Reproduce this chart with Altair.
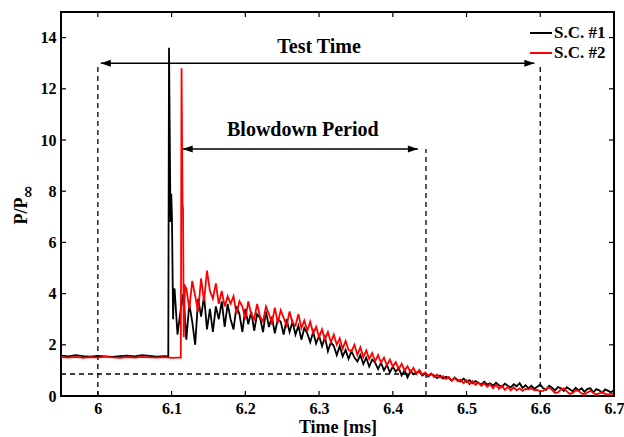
import altair as alt
import pandas as pd

# ---------------- data ----------------
# S.C. #1 (black) before the shock
sc1_pre_t = [5.95, 5.96, 5.97, 5.98, 5.99, 6.00, 6.01, 6.02, 6.03, 6.04, 6.05, 6.06, 6.07, 6.08, 6.09]
sc1_pre_p = [1.58, 1.55, 1.60, 1.56, 1.54, 1.57, 1.55, 1.53, 1.56, 1.58, 1.55, 1.60, 1.57, 1.54, 1.56]
# S.C. #1 shock peak
sc1_peak_t = [6.0955, 6.0965, 6.0985, 6.0995, 6.1005, 6.102, 6.103]
sc1_peak_p = [1.55, 13.6, 6.8, 7.9, 7.0, 3.0, 4.1]
# S.C. #1 blowdown, sampled every 0.004 ms from 6.104 ms
sc1_decay_start = 6.104
sc1_decay_p = [
    4.2, 2.4, 3.3, 4.0, 2.2, 3.6, 2.9, 2.0, 3.8, 3.1,
    3.9, 2.6, 3.4, 2.5, 3.5, 3.0, 3.7,
    2.7, 3.6, 3.0, 2.6, 3.5, 3.2, 2.5, 3.4, 2.8, 3.3,
    2.55, 3.2, 3.05, 2.5, 3.3, 2.7, 3.1, 2.45, 3.0, 2.9,
    2.4, 3.0, 2.5,
    2.9, 2.4, 2.75, 2.2, 2.65, 2.45, 2.1, 2.5, 2.05, 2.35,
    1.95, 2.3, 1.75, 2.1, 1.95, 1.6, 1.95, 1.55, 1.8, 1.45,
    1.75, 1.5, 1.35, 1.6, 1.25, 1.5, 1.15, 1.42, 1.3, 1.05,
    1.3, 1.0, 1.22, 0.92, 1.15, 0.95, 1.1, 0.8, 1.0, 0.72,
    0.98, 0.85, 0.92, 0.95, 0.8, 0.88, 0.76, 0.86, 0.8, 0.7,
    0.8, 0.68, 0.75, 0.7, 0.6, 0.72, 0.62, 0.56, 0.68, 0.55,
    0.62, 0.5, 0.58, 0.52, 0.44, 0.56, 0.45, 0.5, 0.4, 0.52,
    0.42, 0.36, 0.48, 0.4, 0.34, 0.46, 0.38, 0.5, 0.32, 0.42,
    0.3, 0.4, 0.28, 0.36, 0.45, 0.3, 0.24, 0.4, 0.32, 0.22,
    0.35, 0.3, 0.2, 0.34, 0.26, 0.18, 0.32, 0.22, 0.3, 0.16,
    0.28, 0.3, 0.14, 0.27, 0.22, 0.12, 0.26, 0.2, 0.14, 0.24,
]

# S.C. #2 (red) before the shock
sc2_pre_t = [5.95, 5.96, 5.97, 5.98, 5.99, 6.00, 6.01, 6.02, 6.03, 6.04, 6.05, 6.06, 6.07, 6.08, 6.09, 6.10, 6.11]
sc2_pre_p = [1.52, 1.50, 1.53, 1.49, 1.52, 1.50, 1.54, 1.51, 1.49, 1.52, 1.50, 1.53, 1.51, 1.50, 1.52, 1.49, 1.50]
# S.C. #2 shock peak
sc2_peak_t = [6.1125, 6.1135, 6.1148, 6.1155, 6.1165, 6.118]
sc2_peak_p = [1.5, 12.8, 7.5, 7.3, 2.3, 4.3]
# S.C. #2 blowdown, sampled every 0.004 ms from 6.120 ms
sc2_decay_start = 6.120
sc2_decay_p = [
    4.2, 3.4, 4.5, 3.9, 3.3, 4.6, 3.7, 4.9, 4.1, 3.8,
    4.4, 3.6, 4.1, 3.5, 3.9, 3.6,
    3.9, 3.2, 3.7, 3.5, 3.0, 3.7, 3.2, 3.0, 3.6, 3.1,
    2.9, 3.5, 3.2, 2.85, 3.45, 2.85, 3.35, 3.05, 2.75, 3.3,
    2.85, 2.75, 3.2, 2.65, 2.95,
    2.55, 2.9, 2.45, 2.7, 2.3, 2.6, 2.2, 2.5, 2.1, 2.4,
    2.0, 2.25, 1.85, 2.15, 1.8, 1.75, 2.0, 1.6, 1.9, 1.52,
    1.78, 1.45, 1.68, 1.35, 1.6, 1.3, 1.5, 1.2, 1.42, 1.15,
    1.32, 1.05, 1.26, 1.0, 1.16, 0.92, 1.1, 0.86, 1.02, 0.84,
    0.92, 0.8, 0.88, 0.74, 0.84, 0.72, 0.78, 0.66, 0.74, 0.6,
    0.7, 0.58, 0.64, 0.5, 0.62, 0.46, 0.58, 0.44, 0.52, 0.4,
    0.5, 0.36, 0.46, 0.3, 0.44, 0.28, 0.4, 0.24, 0.36, 0.22,
    0.34, 0.22, 0.3, 0.2, 0.28, 0.26, 0.3, 0.22, 0.24, 0.18,
    0.2, 0.28, 0.34, 0.24, 0.12, 0.14, 0.26, 0.3, 0.18, 0.08,
    0.12, 0.22, 0.2, 0.1, 0.06, 0.14, 0.2, 0.12, 0.06, 0.1,
    0.16, 0.08, 0.05, 0.1, 0.06,
]
decay_step = 0.004

series_names = ["S.C. #1", "S.C. #2"]
series_colors = ["#000000", "#ff0000"]

x_ticks = [6.0, 6.1, 6.2, 6.3, 6.4, 6.5, 6.6, 6.7]
y_ticks = [0, 2, 4, 6, 8, 10, 12, 14]

# annotations (data coordinates)
vline_x = [6.0, 6.6, 6.445]
vline_top = [13.0, 13.0, 9.65]
hline_y = 0.86
hline_x = [5.95, 6.445]
arrow_x1 = [6.004, 6.115]
arrow_x2 = [6.592, 6.434]
arrow_y = [13.0, 9.65]
label_text = ["Test Time", "Blowdown Period"]
label_x = [6.30, 6.278]
label_y = [13.63, 10.39]

# ---------------- build tables ----------------
def decay_times(start, n):
    return [round(start + decay_step * i, 4) for i in range(n)]

sc1_t = sc1_pre_t + sc1_peak_t + decay_times(sc1_decay_start, len(sc1_decay_p))
sc1_p = sc1_pre_p + sc1_peak_p + sc1_decay_p
sc2_t = sc2_pre_t + sc2_peak_t + decay_times(sc2_decay_start, len(sc2_decay_p))
sc2_p = sc2_pre_p + sc2_peak_p + sc2_decay_p

df1 = pd.DataFrame({"t": sc1_t, "p": sc1_p, "series": series_names[0], "i": range(len(sc1_t))})
df2 = pd.DataFrame({"t": sc2_t, "p": sc2_p, "series": series_names[1], "i": range(len(sc2_t))})

W, H = 553, 384
FONT = "Liberation Serif"

xscale = alt.Scale(domain=[5.95, 6.7], nice=False, zero=False)
yscale = alt.Scale(domain=[0, 15], nice=False)
cscale = alt.Scale(domain=series_names, range=series_colors)

xaxis = alt.Axis(values=x_ticks, format="~g", ticks=False, domain=False, grid=False, labelPadding=4,
                 title="Time [ms]", titlePadding=2, labelFlush=False)
yaxis = alt.Axis(values=y_ticks, ticks=False, domain=False, grid=False, labelPadding=5,
                 title=None)

line1 = alt.Chart(df1).mark_line(strokeWidth=1.8, clip=True).encode(
    x=alt.X("t:Q", scale=xscale, axis=xaxis),
    y=alt.Y("p:Q", scale=yscale, axis=yaxis),
    order="i:Q",
    color=alt.Color("series:N", scale=cscale, legend=alt.Legend(
        title=None, orient="none", legendX=468, legendY=9, symbolType="stroke",
        symbolSize=484, symbolStrokeWidth=2, labelFont=FONT, labelFontWeight="bold",
        labelFontSize=17, labelColor="black", labelOffset=1, rowPadding=0, padding=0)),
)
line2 = alt.Chart(df2).mark_line(strokeWidth=1.8, clip=True).encode(
    x=alt.X("t:Q", scale=xscale),
    y=alt.Y("p:Q", scale=yscale),
    order="i:Q",
    color=alt.Color("series:N", scale=cscale),
)

dash = [5, 4]
vlines = alt.Chart(pd.DataFrame({"x": vline_x, "y": [0] * 3, "y2": vline_top})).mark_rule(
    strokeDash=dash, color="black", strokeWidth=1.3).encode(
    x=alt.X("x:Q", scale=xscale), y=alt.Y("y:Q", scale=yscale), y2="y2:Q")
hline = alt.Chart(pd.DataFrame({"x": [hline_x[0]], "x2": [hline_x[1]], "y": [hline_y]})).mark_rule(
    strokeDash=dash, color="black", strokeWidth=1.3).encode(
    x=alt.X("x:Q", scale=xscale), x2="x2:Q", y=alt.Y("y:Q", scale=yscale))

arrows_df = pd.DataFrame({"x": arrow_x1, "x2": arrow_x2, "y": arrow_y})
arrow_lines = alt.Chart(arrows_df).mark_rule(color="black", strokeWidth=1.5).encode(
    x=alt.X("x:Q", scale=xscale), x2="x2:Q", y=alt.Y("y:Q", scale=yscale))
head_left = alt.Chart(arrows_df).mark_point(
    shape="M0,0L2,-0.7L2,0.7Z", filled=True, color="black", size=100, opacity=1).encode(
    x=alt.X("x:Q", scale=xscale), y=alt.Y("y:Q", scale=yscale))
head_right = alt.Chart(arrows_df).mark_point(
    shape="M0,0L-2,-0.7L-2,0.7Z", filled=True, color="black", size=100, opacity=1).encode(
    x=alt.X("x2:Q", scale=xscale), y=alt.Y("y:Q", scale=yscale))

labels = alt.Chart(pd.DataFrame({"x": label_x, "y": label_y, "text": label_text})).mark_text(
    font=FONT, fontWeight="bold", fontSize=20, color="black", align="center", baseline="middle").encode(
    x=alt.X("x:Q", scale=xscale), y=alt.Y("y:Q", scale=yscale), text="text:N")

# inward ticks on all four sides
xt = pd.DataFrame({"x": x_ticks})
yt = pd.DataFrame({"y": y_ticks})
tick_len = 5
tb = alt.Chart(xt).mark_rule(color="black", strokeWidth=1.2).encode(
    x=alt.X("x:Q", scale=xscale), y=alt.value(H), y2=alt.value(H - tick_len))
tt = alt.Chart(xt).mark_rule(color="black", strokeWidth=1.2).encode(
    x=alt.X("x:Q", scale=xscale), y=alt.value(0), y2=alt.value(tick_len))
tl = alt.Chart(yt).mark_rule(color="black", strokeWidth=1.2).encode(
    y=alt.Y("y:Q", scale=yscale), x=alt.value(0), x2=alt.value(tick_len))
tr = alt.Chart(yt).mark_rule(color="black", strokeWidth=1.2).encode(
    y=alt.Y("y:Q", scale=yscale), x=alt.value(W), x2=alt.value(W - tick_len))

# y title P/P∞ with subscript
ytitle_main = alt.Chart(pd.DataFrame({"t": ["P/P"]})).mark_text(
    font=FONT, fontWeight="bold", fontSize=18, angle=270, align="center", baseline="middle",
    color="black").encode(text="t:N", x=alt.value(-39), y=alt.value(199))
ytitle_sub = alt.Chart(pd.DataFrame({"t": ["∞"]})).mark_text(
    font="DejaVu Serif", fontWeight="bold", fontSize=16, angle=270, align="center", baseline="middle",
    color="black").encode(text="t:N", x=alt.value(-33), y=alt.value(180))

chart = alt.layer(
    vlines, hline, arrow_lines, head_left, head_right, labels,
    line1, line2, tb, tt, tl, tr, ytitle_main, ytitle_sub
).properties(
    width=W, height=H,
    padding={"left": 61, "top": 12, "right": 10, "bottom": 41},
    autosize=alt.AutoSizeParams(type="none"),
    background="white",
).configure_view(
    stroke="black", strokeWidth=2,
).configure_axis(
    labelFont=FONT, labelFontWeight="bold", labelFontSize=16, labelColor="black",
    titleFont=FONT, titleFontWeight="bold", titleFontSize=18, titleColor="black",
)

chart.save("out.html", embed_options={"renderer": "svg", "actions": False})
